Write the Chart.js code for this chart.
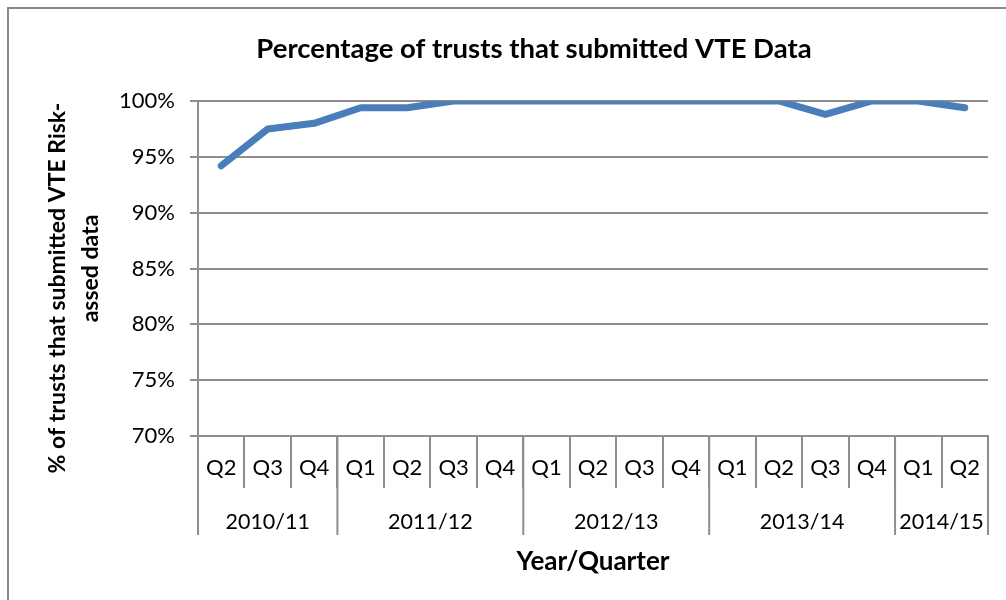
<!DOCTYPE html>
<html>
<head>
<meta charset="utf-8">
<script src="https://cdn.jsdelivr.net/npm/chart.js@4"></script>
<style>
  html, body { margin: 0; padding: 0; background: #fff; overflow: hidden; }
  #frame { position: absolute; left: 7px; top: 7px; width: 1100px; height: 700px; border: 2px solid #8a8a8a; }
  #wrap { position: absolute; left: 0; top: 0; width: 1006px; height: 600px; }
</style>
</head>
<body>
<div id="frame"></div>
<div id="wrap"><canvas id="vteChart"></canvas></div>
<script>
const quarters = ['Q2', 'Q3', 'Q4', 'Q1', 'Q2', 'Q3', 'Q4', 'Q1', 'Q2', 'Q3', 'Q4', 'Q1', 'Q2', 'Q3', 'Q4', 'Q1', 'Q2'];
const years = ['2010/11', '2011/12', '2012/13', '2013/14', '2014/15'];
const quartersPerYear = [3, 4, 4, 4, 2];
const submittedPct = [94.2, 97.5, 98.0, 99.4, 99.4, 100, 100, 100, 100, 100, 100, 100, 100, 98.8, 100, 100, 99.4];
const yTicks = [70, 75, 80, 85, 90, 95, 100];

const FONT = 'Lato, "Open Sans", sans-serif';
const GRID = '#8e8e8e';

// year row under the quarter labels, with the long separators
const yearGroups = {
    id: 'yearGroups',
    afterDraw(chart) {
        const xs = chart.scales.x;
        const ctx = chart.ctx;
        const edge = i => xs.getPixelForValue(i - 0.5);
        ctx.save();
        ctx.strokeStyle = GRID;
        ctx.lineWidth = 2;
        ctx.fillStyle = '#000';
        ctx.font = '21.5px ' + FONT;
        ctx.textAlign = 'center';
        ctx.textBaseline = 'middle';
        let start = 0;
        const drawSep = px => {
            ctx.beginPath();
            ctx.moveTo(px, xs.top);
            ctx.lineTo(px, xs.top + 99);
            ctx.stroke();
        };
        drawSep(edge(0));
        years.forEach((yr, k) => {
            const end = start + quartersPerYear[k];
            const l = edge(start), r = edge(end);
            drawSep(r);
            ctx.fillText(yr, (l + r) / 2, xs.top + 86);
            start = end;
        });
        ctx.restore();
    }
};

const ctx = document.getElementById('vteChart').getContext('2d');
new Chart(ctx, {
    type: 'line',
    data: {
        labels: quarters,
        datasets: [{
            label: 'Submitted',
            data: submittedPct,
            borderColor: '#4A7EBB',
            borderWidth: 7,
            borderCapStyle: 'round',
            borderJoinStyle: 'round',
            pointRadius: 0,
            tension: 0,
            fill: false
        }]
    },
    options: {
        responsive: true,
        maintainAspectRatio: false,
        animation: false,
        layout: { padding: { left: 80, right: 18, top: 0, bottom: 0 } },
        plugins: {
            legend: { display: false },
            tooltip: { enabled: false },
            title: {
                display: true,
                text: 'Percentage of trusts that submitted VTE Data',
                color: '#000',
                font: { family: FONT, size: 27.5, weight: 'bold', lineHeight: 1.2 },
                padding: { top: 33, bottom: 35 }
            }
        },
        scales: {
            x: {
                offset: true,
                grid: { display: true, drawOnChartArea: false, offset: true, tickLength: 52, color: GRID, lineWidth: 2 },
                border: { display: true, color: GRID, width: 2 },
                ticks: { color: '#000', padding: -33, maxRotation: 0, autoSkip: false, font: { family: FONT, size: 22 } },
                title: {
                    display: true,
                    text: 'Year/Quarter',
                    color: '#000',
                    font: { family: FONT, size: 26, weight: 'bold', lineHeight: 1.2 },
                    padding: { top: 0, bottom: 23 }
                },
                afterFit(scale) { scale.height = 164; }
            },
            y: {
                min: 70,
                max: 100,
                afterBuildTicks(scale) { scale.ticks = yTicks.map(v => ({ value: v })); },
                grid: { color: GRID, lineWidth: 2, tickLength: 8 },
                border: { display: true, color: GRID, width: 2 },
                ticks: { color: '#000', padding: 15, font: { family: FONT, size: 22 }, callback: v => v + '%' },
                title: {
                    display: true,
                    text: ['% of trusts that submitted VTE Risk-       ', 'assed data'],
                    color: '#000',
                    font: { family: FONT, size: 23, weight: 'bold', lineHeight: 1.43 },
                    padding: { top: -39, bottom: 0 }
                },
                afterFit(scale) { scale.width = 118; }
            }
        }
    },
    plugins: [yearGroups]
});
</script>
</body>
</html>
